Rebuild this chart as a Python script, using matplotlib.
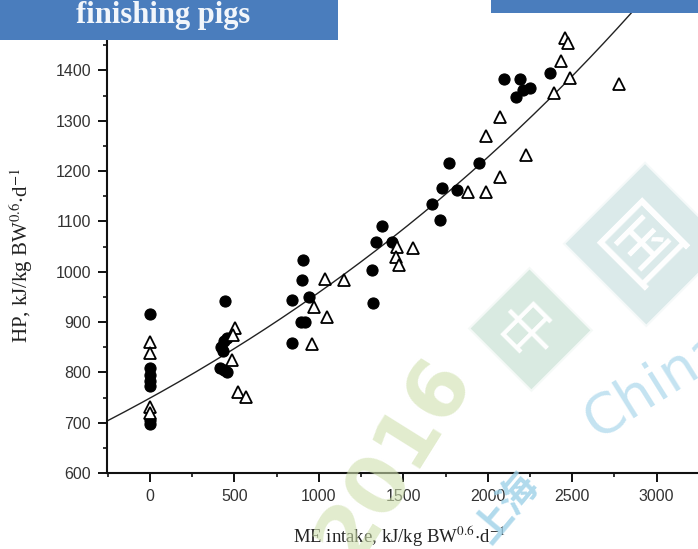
import numpy as np
import matplotlib
matplotlib.use("Agg")
import matplotlib.pyplot as plt
from matplotlib.patches import Rectangle
from matplotlib.ticker import MultipleLocator

# ME intake vs heat production, two groups of finishing pigs
circle_me = [0, 0, 0, 0, 0, 0, 0,
             444, 420, 440, 430, 455, 415, 440, 455,
             903, 897, 838, 940, 895, 920, 838,
             1312, 1318, 1371, 1341, 1430,
             1667, 1720, 1771, 1949, 1726, 1815,
             2371, 2095, 2189, 2249, 2208, 2166]
circle_hp = [915, 808, 795, 782, 772, 705, 698,
             942, 850, 862, 843, 868, 808, 805, 800,
             1023, 984, 944, 950, 900, 900, 858,
             1004, 938, 1091, 1060, 1060,
             1135, 1102, 1217, 1217, 1166, 1163,
             1395, 1383, 1383, 1365, 1361, 1347]

triangle_me = [0, 0, 0, 0,
               503, 491, 485, 520, 568,
               1036, 1148, 971, 1048, 958,
               1460, 1456, 1475, 1557,
               1884, 1988, 2071, 2229,
               2456, 2475, 2436, 2489, 2391, 2777, 2071, 1988]
triangle_hp = [860, 838, 731, 719,
               888, 874, 825, 761, 751,
               986, 984, 930, 910, 857,
               1050, 1030, 1014, 1047,
               1159, 1159, 1189, 1232,
               1464, 1455, 1418, 1385, 1356, 1373, 1308, 1270]

# exponential regression HP = a * exp(b * ME)
fit_a = 749.0
fit_b = 0.000247

x_ticks = [0, 500, 1000, 1500, 2000, 2500, 3000]
y_ticks = [600, 700, 800, 900, 1000, 1100, 1200, 1300, 1400]

plt.rcParams["mathtext.fontset"] = "stix"

fig = plt.figure(figsize=(6.98, 5.49), dpi=100)
fig.patch.set_facecolor("white")

# faint background watermark
wm_kw = dict(transform=fig.transFigure, zorder=0, ha="center", va="center")
fig.text(0.565, 0.165, "2016", fontsize=58, fontweight="bold", rotation=58,
         color="#cfe0ad", alpha=0.6, family="DejaVu Sans", **wm_kw)
fig.text(0.76, 0.40, "中", fontsize=42, rotation=45, color="white",
         family=["Noto Sans CJK SC"],
         bbox=dict(boxstyle="square,pad=0.25", fc="#cde4d8", ec="white", lw=3, alpha=0.75),
         **wm_kw)
fig.text(0.925, 0.555, "国", fontsize=56, rotation=45, color="white",
         family=["Noto Sans CJK SC"],
         bbox=dict(boxstyle="square,pad=0.25", fc="#cfe4e4", ec="white", lw=3, alpha=0.75),
         **wm_kw)
fig.text(0.94, 0.30, "China", fontsize=40, rotation=32, color="#b5dcee",
         alpha=0.8, family="DejaVu Sans", **wm_kw)
fig.text(0.725, 0.075, "上海", fontsize=28, rotation=50, color="#9dd1e8",
         alpha=0.8, family=["Noto Sans CJK SC"], fontweight="bold", **wm_kw)

ax = fig.add_axes([107 / 698, 76 / 549, 591 / 698, 473 / 549])
ax.patch.set_alpha(0)

xs = np.linspace(-255, 3245, 300)
ax.plot(xs, fit_a * np.exp(fit_b * xs), color="#222222", lw=1.0, zorder=2)

ax.plot(circle_me, circle_hp, "o", ms=8, mfc="black", mec="black", mew=0.8,
        ls="none", zorder=3)
ax.plot(triangle_me, triangle_hp, "^", ms=9, mfc="white", mec="black", mew=1.3,
        ls="none", zorder=4)

ax.set_xlim(-255, 3245)
ax.set_ylim(600, 1540)
ax.set_xticks(x_ticks)
ax.set_yticks(y_ticks)
ax.xaxis.set_minor_locator(MultipleLocator(250))
ax.yaxis.set_minor_locator(MultipleLocator(50))

for s in ("top", "right"):
    ax.spines[s].set_visible(False)
for s in ("left", "bottom"):
    ax.spines[s].set_linewidth(1.5)
    ax.spines[s].set_color("#111111")

ax.tick_params(which="major", direction="out", length=6.5, width=1.4,
               color="#111111", labelsize=11.5, labelcolor="#333333", pad=5)
ax.tick_params(which="minor", direction="out", length=3, width=1.2, color="#111111")
for lab in ax.get_xticklabels() + ax.get_yticklabels():
    lab.set_family("Liberation Sans")

ax.set_xlabel(r"ME intake, kJ/kg BW$^{0.6}$$\cdot$d$^{-1}$", fontsize=13.5,
              family="Liberation Serif", color="#222222")
ax.set_ylabel(r"HP, kJ/kg BW$^{0.6}$$\cdot$d$^{-1}$", fontsize=15,
              family="Liberation Serif", color="#222222")
ax.xaxis.set_label_coords(0.494, -0.106)
ax.yaxis.set_label_coords(-0.122, 0.46)

# slide header boxes
fig.patches.append(Rectangle((0, 509 / 549), 338 / 698, 40 / 549,
                             transform=fig.transFigure, fc="#4a7dbd", ec="none",
                             zorder=10))
fig.patches.append(Rectangle((491 / 698, 536 / 549), 207 / 698, 13 / 549,
                             transform=fig.transFigure, fc="#4a7dbd", ec="none",
                             zorder=10))
fig.text(163 / 698, 526 / 549, "finishing pigs", fontsize=22, fontweight="bold",
         family="Liberation Serif", color="#f2f6fb", ha="center", va="baseline",
         zorder=11)

fig.savefig("out.png", dpi=100)
